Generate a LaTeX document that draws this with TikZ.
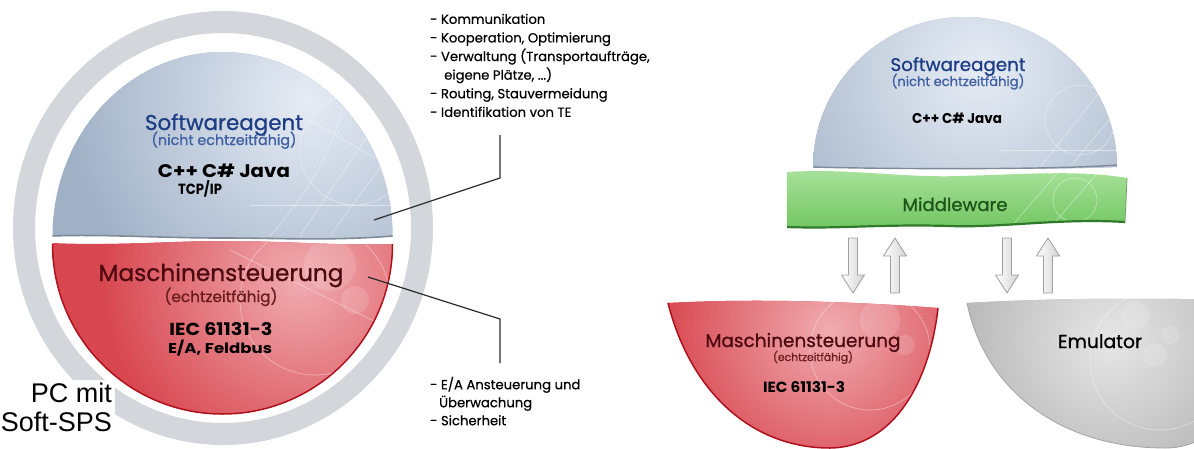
\documentclass[tikz,border=0pt]{standalone}
\usepackage{fontspec}
\setmainfont{Poppins}
\newfontfamily\titlefont[FakeBold=0.9]{Poppins}
\newfontfamily\listfont[FakeBold=0.5]{Poppins}
\newfontfamily\labelfont{Liberation Sans}

% palette
\definecolor{ringgray}{HTML}{D3D7DB}
\definecolor{agentbase}{HTML}{A0B1C6}
\definecolor{agentlight}{HTML}{E6ECF5}
\definecolor{agentrim}{HTML}{7E8A98}
\definecolor{ctrlbase}{HTML}{D8464F}
\definecolor{ctrllight}{HTML}{F0ACB1}
\definecolor{ctrlrim}{HTML}{B0101C}
\definecolor{emubase}{HTML}{B2B2B2}
\definecolor{emulight}{HTML}{E6E6E6}
\definecolor{mwtop}{HTML}{A9E29C}
\definecolor{mwbottom}{HTML}{72C661}
\definecolor{mwrim}{HTML}{2F7A2A}
\definecolor{agentblue}{HTML}{1C3C84}
\definecolor{agentsub}{HTML}{3F5FA3}
\definecolor{msred}{HTML}{4C0A10}
\definecolor{mssub}{HTML}{6A1C1C}
\definecolor{mwgreen}{HTML}{1C5418}
\definecolor{leadgray}{HTML}{2A2A2A}

\newcommand{\fsz}[1]{\fontsize{#1pt}{#1pt}\selectfont}
% text set to a given width (and optionally height)
\newcommand{\wbox}[2]{\resizebox{#1pt}{!}{#2}}
\newcommand{\whbox}[3]{\resizebox{#1pt}{#2pt}{#3}}

% outlines of the shapes (y grows downwards)
\def\pcagent{(52.5,236) arc[start angle=180,end angle=360,x radius=170,y radius=184]
  .. controls (330,241) and (280,238) .. (222,238) .. controls (160,238) and (100,234) .. (52.5,236) -- cycle}
\def\pcctrl{(52.5,243) .. controls (120,246) and (170,241) .. (222,241) .. controls (290,241) and (340,246) .. (392.5,244)
  arc[start angle=0,end angle=180,x radius=170,y radius=170] -- cycle}
\def\netagent{(813,167) arc[start angle=180,end angle=360,x radius=152,y radius=150]
  .. controls (1050,170) and (880,169) .. (813,167) -- cycle}
\def\mwband{(787,172) .. controls (850,168) and (900,178) .. (960,176) .. controls (1030,174) and (1080,170) .. (1127,178)
  -- (1125,222) .. controls (1060,218) and (1000,228) .. (950,226) .. controls (880,224) and (840,229) .. (787,227) -- cycle}
\def\netctrl{(668,303) .. controls (760,298) and (860,302) .. (938,308) .. controls (930,380) and (895,447) .. (830,448)
  .. controls (750,448) and (690,390) .. (668,303) -- cycle}
\def\emu{(967,303) .. controls (1050,298) and (1150,298) .. (1240,300) .. controls (1245,400) and (1220,448) .. (1165,448)
  .. controls (1060,448) and (985,390) .. (967,303) -- cycle}

\tikzset{
  title/.style={inner sep=0pt, anchor=base},
  leader/.style={draw=leadgray, line width=1.2pt},
  listtext/.style={inner sep=0pt, anchor=north west, align=left, text=black},
  blockarrow/.style={draw=gray!75, line width=0.8pt, left color=white, right color=gray!35, line join=round},
  texture/.style={draw=white, line width=0.6pt, opacity=0.45},
  spot/.style={fill=white, opacity=0.14},
}

\begin{document}
\begin{tikzpicture}[x=1pt,y=-1pt]
\useasboundingbox (0,0) rectangle (1194,448);
\clip (0,0) rectangle (1194,448);
\fill[white] (0,0) rectangle (1194,448);

% ---------- PC with soft PLC ----------
\draw[ringgray, line width=22pt] (223,228) ellipse [x radius=199, y radius=206];

% software agent dome
\fill[agentbase] \pcagent;
\begin{scope}
  \clip \pcagent;
  \shade[inner color=agentlight, outer color=agentbase] (305,100) circle (240);
  \draw[texture] (355,150) circle (55);
  \draw[texture] (300,236) -- (395,95);
  \draw[texture] (330,236) -- (400,140);
  \draw[texture] (270,236) .. controls (320,180) and (350,120) .. (345,60);
  \draw[texture] (250,205) -- (395,205);
  \draw[texture] (310,120) -- (395,170);
\end{scope}
\draw[agentrim, line width=1.6pt] (392.5,236) .. controls (330,241) and (280,238) .. (222,238)
  .. controls (160,238) and (100,234) .. (52.5,236);

% machine control bowl
\fill[ctrlbase] \pcctrl;
\begin{scope}
  \clip \pcctrl;
  \shade[inner color=ctrllight, outer color=ctrlbase] (300,280) circle (200);
  \fill[spot] (330,265) circle (26);
  \fill[spot] (355,300) circle (14);
  \draw[texture] (315,300) circle (75);
  \draw[texture] (230,250) -- (392,330);
\end{scope}
\draw[ctrlrim, line width=1.5pt] (392.5,244) arc[start angle=0,end angle=180,x radius=170,y radius=170];

\node[title, text=agentblue, font=\titlefont\fsz{20}] (pcagent) at (224,130) {\wbox{158}{Softwareagent}};
\node[title, text=agentsub, font=\titlefont\fsz{14}] (pcagentrt) at (224,145) {\wbox{145}{(nicht echtzeitfähig)}};
\node[title, font=\fsz{17}\bfseries] (pclang) at (224,177) {\whbox{132}{13.5}{C++ C\# Java}};
\node[title, font=\fsz{15}\bfseries] (pcnet) at (200,194) {\whbox{44}{14}{TCP/IP}};

\node[title, text=msred, font=\titlefont\fsz{22}] (pcctrl) at (221,281) {\wbox{245}{Maschinensteuerung}};
\node[title, text=mssub, font=\titlefont\fsz{14}] (pcctrlrt) at (221,302) {\wbox{113}{(echtzeitfähig)}};
\node[title, font=\fsz{16}\bfseries] (pcstd) at (221,335) {\whbox{103}{13}{IEC 61131-3}};
\node[title, font=\fsz{16}\bfseries] (pcio) at (220,353) {\whbox{104}{13.5}{E/A, Feldbus}};

\node[fill=white, inner sep=3pt, anchor=north east, align=right,
      font=\labelfont\fontsize{27pt}{29pt}\selectfont] (pclabel) at (115,380) {PC mit\\Soft-SPS};

% task lists with their leader lines
\node[listtext, font=\listfont\fontsize{13.2pt}{18.6pt}\selectfont] (agenttasks) at (430,13.6)
  {- Kommunikation\\- Kooperation, Optimierung\\- Verwaltung (Transportaufträge,\\\hspace*{14pt}eigene Plätze, ...)\\- Routing, Stauvermeidung\\- Identifikation von TE};
\node[listtext, font=\listfont\fontsize{13.2pt}{18pt}\selectfont] (ctrltasks) at (430,376.6)
  {- E/A Ansteuerung und\\\hspace*{9pt}Überwachung\\- Sicherheit};

\coordinate (agpin) at (374,220);
\coordinate (agbend) at (500,178);
\coordinate (agend) at (500,135);
\draw[leader] (agpin) -- (agbend) -- (agend);
\coordinate (mspin) at (368,277);
\coordinate (msbend) at (500,319);
\coordinate (msend) at (500,363);
\draw[leader] (mspin) -- (msbend) -- (msend);

% ---------- networked setup ----------
\fill[agentbase] \netagent;
\begin{scope}
  \clip \netagent;
  \shade[inner color=agentlight, outer color=agentbase!85!white] (980,70) circle (200);
  \draw[texture] (1040,167) -- (1117,70);
  \draw[texture] (1070,167) -- (1117,110);
  \draw[texture] (1080,120) circle (35);
  \draw[texture] (1000,150) -- (1117,150);
\end{scope}
\draw[agentrim, line width=1.4pt] (1117,165) .. controls (1050,170) and (880,169) .. (813,167);

\shade[top color=mwtop, bottom color=mwbottom] \mwband;
\begin{scope}
  \clip \mwband;
  \draw[texture] (1010,228) -- (1060,170);
  \draw[texture] (1050,228) -- (1100,170);
  \draw[texture] (1075,200) circle (22);
\end{scope}
\draw[mwrim, line width=2.2pt] (1125,222) .. controls (1060,218) and (1000,228) .. (950,226)
  .. controls (880,224) and (840,229) .. (787,227);
\draw[mwrim!70, line width=0.8pt] (1127,178) -- (1125,222);

\node[title, text=agentblue, font=\titlefont\fsz{17}] (netagent) at (958,71) {\wbox{135}{Softwareagent}};
\node[title, text=agentsub, font=\titlefont\fsz{13}] (netagentrt) at (958,86) {\wbox{133}{(nicht echtzeitfähig)}};
\node[title, font=\fsz{13}\bfseries] (netlang) at (957,123) {\whbox{90}{10.5}{C++ C\# Java}};
\node[title, text=mwgreen, font=\titlefont\fsz{17}] (middleware) at (955,211) {\wbox{105}{Middleware}};

% exchange arrows
\coordinate (down1) at (853,238);
\coordinate (up1) at (895,293);
\coordinate (down2) at (1007,238);
\coordinate (up2) at (1048,293);
\draw[blockarrow] (down1) ++(-4.5,0) -- ++(9,0) -- ++(0,37) -- ++(7,0) -- ++(-11.5,18) -- ++(-11.5,-18) -- ++(7,0) -- cycle;
\draw[blockarrow] (up1) ++(-4.5,0) -- ++(9,0) -- ++(0,-37) -- ++(7,0) -- ++(-11.5,-18) -- ++(-11.5,18) -- ++(7,0) -- cycle;
\draw[blockarrow] (down2) ++(-4.5,0) -- ++(9,0) -- ++(0,37) -- ++(7,0) -- ++(-11.5,18) -- ++(-11.5,-18) -- ++(7,0) -- cycle;
\draw[blockarrow] (up2) ++(-4.5,0) -- ++(9,0) -- ++(0,-37) -- ++(7,0) -- ++(-11.5,-18) -- ++(-11.5,18) -- ++(7,0) -- cycle;

% machine control bowl
\fill[ctrlbase] \netctrl;
\begin{scope}
  \clip \netctrl;
  \shade[inner color=ctrllight, outer color=ctrlbase] (830,330) circle (170);
  \fill[spot] (880,320) circle (20);
  \fill[spot] (905,345) circle (10);
  \draw[texture] (870,350) circle (60);
\end{scope}
\draw[ctrlrim, line width=1.5pt] (938,308) .. controls (930,380) and (895,447) .. (830,448)
  .. controls (750,448) and (690,390) .. (668,303);

\node[title, text=msred, font=\titlefont\fsz{18}] (netctrl) at (803,347) {\wbox{195}{Maschinensteuerung}};
\node[title, text=mssub, font=\titlefont\fsz{11}] (netctrlrt) at (813,361) {\wbox{80}{(echtzeitfähig)}};
\node[title, font=\fsz{13}\bfseries] (netstd) at (804,392) {\whbox{82}{11}{IEC 61131-3}};

% emulator bowl
\fill[emubase] \emu;
\begin{scope}
  \clip \emu;
  \shade[inner color=emulight, outer color=emubase] (1110,340) circle (170);
  \fill[spot] (1135,315) circle (14);
  \fill[spot] (1155,355) circle (12);
  \fill[spot] (1170,335) circle (9);
  \draw[texture] (1160,360) circle (70);
\end{scope}
\draw[gray!70, line width=0.8pt] (1240,300) .. controls (1245,400) and (1220,448) .. (1165,448)
  .. controls (1060,448) and (985,390) .. (967,303);

\node[title, font=\titlefont\fsz{18}] (emulator) at (1100,348) {\wbox{84}{Emulator}};
\end{tikzpicture}
\end{document}
